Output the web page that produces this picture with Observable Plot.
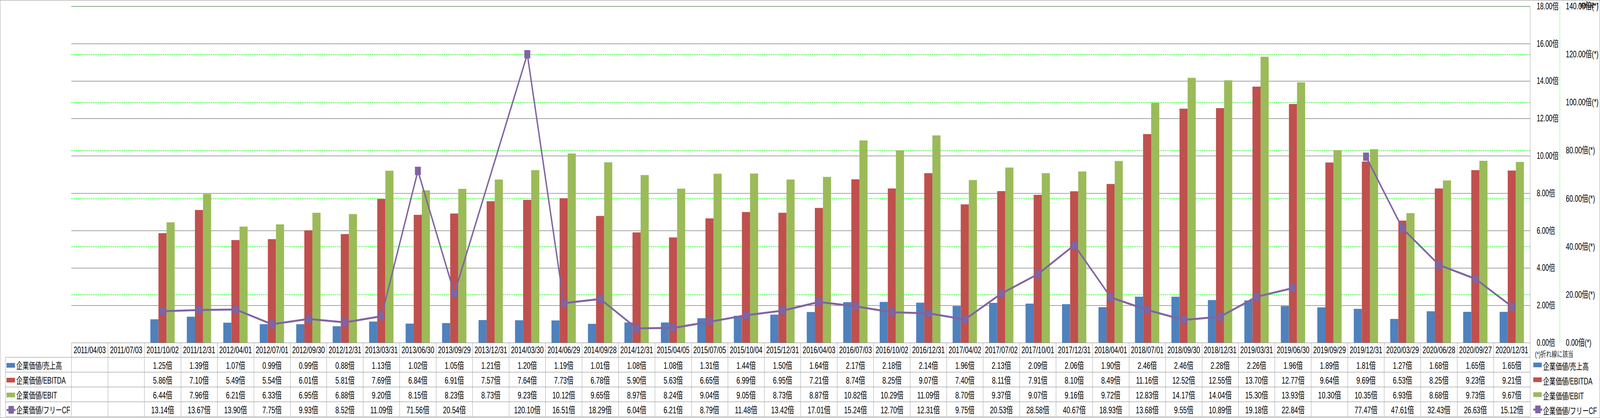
<!DOCTYPE html>
<html>
<head>
<meta charset="utf-8">
<script src="https://cdn.jsdelivr.net/npm/d3@7"></script>
<script src="https://cdn.jsdelivr.net/npm/@observablehq/plot@0.6"></script>
<style>
html, body { margin: 0; padding: 0; background: #fff; overflow: hidden; }
#chart { position: absolute; left: 0; top: 0; width: 5876px; height: 1071px; overflow: hidden; background: #fff;
  font-family: "Liberation Sans", "Noto Sans CJK JP", sans-serif; color: #000; transform-origin: 0 0; }
.layer { position: absolute; left: 0; top: 0; }
#frame { position: absolute; left: 0; top: 0; width: 5876px; height: 1071px; box-sizing: border-box;
  border: 1.5px solid #868686; pointer-events: none; }
#tbl { position: absolute; border-collapse: collapse; table-layout: fixed; font-size: 24px; }
#tbl td { border: 1.5px solid #868686; text-align: center; padding: 0; white-space: nowrap; overflow: hidden; }
#tbl td.blank { border-top: none; border-left: none; }
#tbl td.lab { text-align: left; padding-left: 3px; font-size: 23px; overflow: visible; }
.key { display: inline-block; width: 31px; height: 12px; vertical-align: middle; margin-right: 5px; position: relative; top: -2px; }
.keyline { display: inline-block; width: 33px; height: 20px; vertical-align: middle; margin-right: 3px; position: relative; top: -2px; }
.keyline .ln { position: absolute; left: 0; top: 8px; width: 33px; height: 5px; }
.keyline .sq { position: absolute; left: 7px; top: 0; width: 20px; height: 20px; border-radius: 2px; }
.leg { position: absolute; height: 38px; display: flex; align-items: center; font-size: 23px; white-space: nowrap; }
.note { position: absolute; font-size: 20px; color: #262626; white-space: nowrap; }
.vline { position: absolute; width: 0; }
</style>
</head>
<body>
<div id="chart"></div>
<script>
// ---------- data ----------
const dates = [
  "2011/04/03","2011/07/03","2011/10/02","2011/12/31","2012/04/01","2012/07/01","2012/09/30","2012/12/31",
  "2013/03/31","2013/06/30","2013/09/29","2013/12/31","2014/03/30","2014/06/29","2014/09/28","2014/12/31",
  "2015/04/05","2015/07/05","2015/10/04","2015/12/31","2016/04/03","2016/07/03","2016/10/02","2016/12/31",
  "2017/04/02","2017/07/02","2017/10/01","2017/12/31","2018/04/01","2018/07/01","2018/09/30","2018/12/31",
  "2019/03/31","2019/06/30","2019/09/29","2019/12/31","2020/03/29","2020/06/28","2020/09/27","2020/12/31"
];
const seriesNames = ["企業価値/売上高", "企業価値/EBITDA", "企業価値/EBIT", "企業価値/フリーCF"];
const evSales = [null,null,1.25,1.39,1.07,0.99,0.99,0.88,1.13,1.02,1.05,1.21,1.20,1.19,1.01,1.08,
  1.08,1.31,1.44,1.50,1.64,2.17,2.18,2.14,1.96,2.13,2.09,2.06,1.90,2.46,2.46,2.28,
  2.26,1.96,1.89,1.81,1.27,1.68,1.65,1.65];
const evEbitda = [null,null,5.86,7.10,5.49,5.54,6.01,5.81,7.69,6.84,6.91,7.57,7.64,7.73,6.78,5.90,
  5.63,6.65,6.99,6.95,7.21,8.74,8.25,9.07,7.40,8.11,7.91,8.10,8.49,11.16,12.52,12.55,
  13.70,12.77,9.64,9.69,6.53,8.25,9.23,9.21];
const evEbit = [null,null,6.44,7.96,6.21,6.33,6.95,6.88,9.20,8.15,8.23,8.73,9.23,10.12,9.65,8.97,
  8.24,9.04,9.05,8.73,8.87,10.82,10.29,11.09,8.70,9.37,9.07,9.16,9.72,12.83,14.17,14.04,
  15.30,13.93,10.30,10.35,6.93,8.68,9.73,9.67];
const evFcf = [null,null,13.14,13.67,13.90,7.75,9.93,8.52,11.09,71.56,20.54,null,120.10,16.51,18.29,6.04,
  6.21,8.79,11.48,13.42,17.01,15.24,12.70,12.31,9.75,20.53,28.58,40.67,18.93,13.68,9.55,10.89,
  19.18,22.84,null,77.47,47.61,32.43,26.63,15.12];
// the line is interrupted at these empty dates (other empty dates are bridged)
const lineBreaks = ["2019/09/29"];
const leftTicks = [0, 2, 4, 6, 8, 10, 12, 14, 16, 18];
const rightTicks = [0, 20, 40, 60, 80, 100, 120, 140];
const colors = ["#4F81BD", "#C0504D", "#9BBB59", "#8064A2"];

// ---------- tables built from the arrays ----------
const barSeries = [evSales, evEbitda, evEbit];
const barRows = barSeries.flatMap((vals, k) => dates.map((d, i) => ({date: d, k, value: vals[i]})))
  .filter(r => r.value != null);
const lineRows = dates.map((d, i) => ({date: d, value: evFcf[i]}))
  .filter(r => r.value != null || lineBreaks.includes(r.date));
const dotRows = lineRows.filter(r => r.value != null);

// ---------- layout (designed at 5876 x 1071, then fitted to the window) ----------
const W = 5876, H = 1071, SVG_H = 880, ML = 262, MR = 257, MT = 16, MB = 2;
const bw = (W - ML - MR) / dates.length;
const bar = bw / 4.5; // Excel gap width 150%
const font = '"Liberation Sans","Noto Sans CJK JP",sans-serif';
const frameOpts = {
  width: W, height: SVG_H, marginLeft: ML, marginRight: MR, marginTop: MT, marginBottom: MB,
  style: {background: "transparent", fontFamily: font, fontSize: "23px", color: "#000", overflow: "visible", maxWidth: "none"}
};
const xOpt = {type: "band", domain: dates, padding: 0, axis: null};

const plotA = Plot.plot({
  ...frameOpts,
  x: xOpt,
  y: {domain: [0, 140]},
  marks: [
    Plot.ruleY(rightTicks.filter(t => t > 0), {stroke: "#00FF00", strokeWidth: 1.5, strokeDasharray: "5,3"}),
    Plot.axisY(rightTicks, {anchor: "right", tickSize: 0, tickPadding: 131, fontSize: 23.5,
      tickFormat: t => t.toFixed(2) + "倍(*)"})
  ]
});

const insets = [[0.75, 2.75], [1.75, 1.75], [2.75, 0.75]];
const plotB = Plot.plot({
  ...frameOpts,
  x: xOpt,
  y: {domain: [0, 18]},
  marks: [
    Plot.ruleY(leftTicks.filter(t => t > 0), {stroke: "#868686", strokeWidth: 1.5}),
    ...barSeries.map((_, k) => Plot.barY(barRows.filter(r => r.k === k), {
      x: "date", y: "value", fill: colors[k],
      insetLeft: insets[k][0] * bar, insetRight: insets[k][1] * bar
    })),
    Plot.axisY(leftTicks, {anchor: "right", tickSize: 0, tickPadding: 24, fontSize: 23,
      tickFormat: t => t.toFixed(2) + "倍"})
  ]
});

const plotC = Plot.plot({
  ...frameOpts,
  x: xOpt,
  y: {domain: [0, 140], axis: null},
  marks: [
    Plot.line(lineRows, {x: "date", y: "value", stroke: colors[3], strokeWidth: 5}),
    Plot.dot(dotRows, {x: "date", y: "value", symbol: "square", r: 11.5, fill: colors[3], stroke: "#7A5E9C", strokeWidth: 1})
  ]
});

const chart = document.getElementById("chart");
[plotA, plotB, plotC].forEach(p => { p.classList.add("layer"); chart.appendChild(p); });

const xs = plotB.scale("x");
const ys = plotB.scale("y");
const x0 = xs.apply(dates[0]);
const yTop = ys.apply(18), yBot = ys.apply(0);
const rightEdge = x0 + bw * dates.length;

// plot-area right border (primary axis side)
const v1 = document.createElement("div");
v1.className = "vline";
v1.style.cssText = `left:${rightEdge - 0.5}px;top:${yTop}px;height:${yBot - yTop}px;border-left:1.5px solid #868686;`;
chart.appendChild(v1);
// secondary axis line (green dashed)
const v2 = document.createElement("div");
v2.className = "vline";
v2.style.cssText = `left:${rightEdge + 109}px;top:${yTop}px;height:${yBot - yTop}px;border-left:1.5px dashed #00FF00;`;
chart.appendChild(v2);

// ---------- data table ----------
const tableLeft = 20;
const tbl = document.createElement("table");
tbl.id = "tbl";
tbl.style.left = tableLeft + "px";
tbl.style.top = (yBot) + "px";
tbl.style.width = (rightEdge - tableLeft) + "px";
const cg = document.createElement("colgroup");
const c0 = document.createElement("col"); c0.style.width = (x0 - tableLeft) + "px"; cg.appendChild(c0);
dates.forEach(() => { const c = document.createElement("col"); c.style.width = bw + "px"; cg.appendChild(c); });
tbl.appendChild(cg);

function keyHTML(k) {
  if (k < 3) return `<span class="key" style="background:${colors[k]}"></span>`;
  return `<span class="keyline"><span class="ln" style="background:${colors[3]}"></span><span class="sq" style="background:${colors[3]}"></span></span>`;
}
const hdr = document.createElement("tr");
hdr.style.height = "37px";
hdr.innerHTML = `<td class="blank"></td>` + dates.map(d => `<td>${d}</td>`).join("");
tbl.appendChild(hdr);
[evSales, evEbitda, evEbit, evFcf].forEach((vals, k) => {
  const tr = document.createElement("tr");
  tr.style.height = "38px";
  tr.innerHTML = `<td class="lab">${keyHTML(k)}${seriesNames[k]}</td>` +
    vals.map(v => `<td>${v == null ? "" : v.toFixed(2) + "倍"}</td>`).join("");
  tbl.appendChild(tr);
});
chart.appendChild(tbl);

// ---------- right legend ----------
const note = document.createElement("div");
note.className = "note";
note.style.left = (rightEdge + 18) + "px";
note.style.top = (yBot + 14) + "px";
note.textContent = "(*)折れ線に該当";
chart.appendChild(note);
seriesNames.forEach((name, k) => {
  const d = document.createElement("div");
  d.className = "leg";
  d.style.left = (rightEdge + 12) + "px";
  d.style.top = (yBot + 40 + k * 38) + "px";
  d.innerHTML = keyHTML(k) + `<span>${name}</span>`;
  chart.appendChild(d);
});

const fr = document.createElement("div");
fr.id = "frame";
chart.appendChild(fr);

// fit the whole 5876 x 1071 drawing into the actual window
function fit() {
  const vw = document.documentElement.clientWidth || window.innerWidth || W;
  const vh = document.documentElement.clientHeight || window.innerHeight || H;
  chart.style.transform = `scale(${vw / W}, ${vh / H})`;
}
fit();
window.addEventListener("resize", fit);
</script>
</body>
</html>
